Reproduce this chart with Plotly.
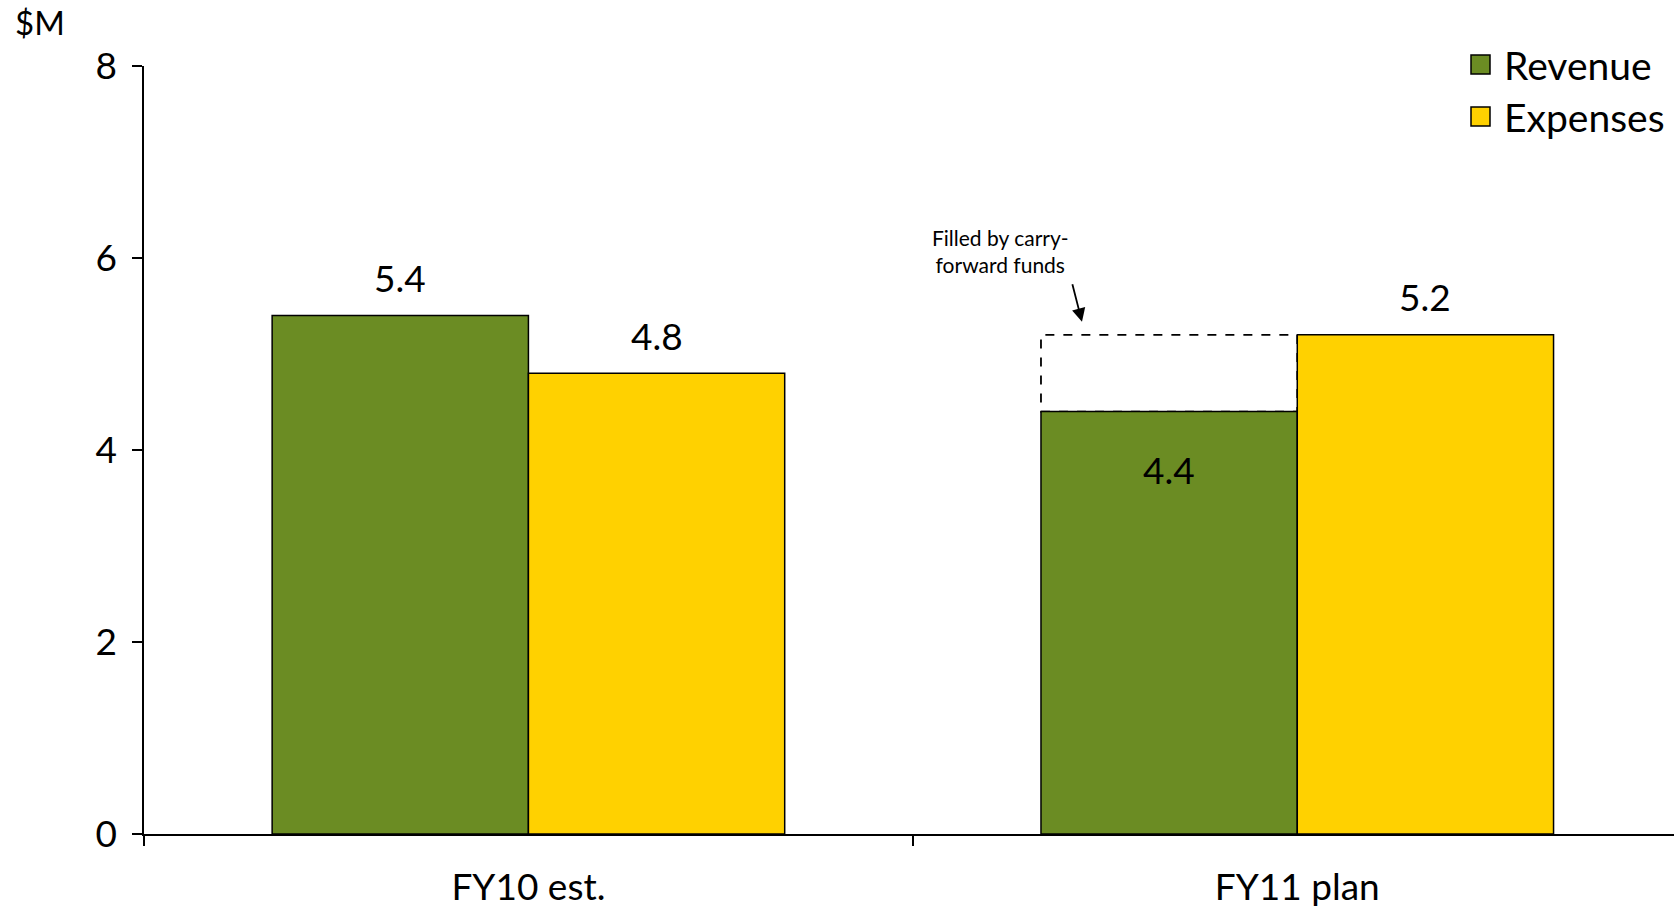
import plotly.graph_objects as go

# Budget figures, $M
categories = ["FY10 est.", "FY11 plan"]
revenue = [5.4, 4.4]
expenses = [4.8, 5.2]
y_ticks = [0, 2, 4, 6, 8]
series_names = ["Revenue", "Expenses"]

GREEN = "#6B8C23"
YELLOW = "#FFD100"
FONT = "Lato"

W, H = 1674, 908
M_L, M_R, M_T, M_B = 144, 0, 66, 74
PLOT_W = W - M_L - M_R
PLOT_H = H - M_T - M_B


def px_to_paper(px, py):
    """Convert page pixel position to paper coordinates."""
    return (px - M_L) / PLOT_W, (H - M_B - py) / PLOT_H


# each bar spans a third of its category (two bars + a one-third gap)
BAR_W = 1 / 3

fig = go.Figure()
fig.add_trace(go.Bar(
    name=series_names[0], x=categories, y=revenue, showlegend=False,
    marker=dict(color=GREEN, line=dict(color="black", width=1.5)),
))
fig.add_trace(go.Bar(
    name=series_names[1], x=categories, y=expenses, showlegend=False,
    marker=dict(color=YELLOW, line=dict(color="black", width=1.5)),
))

annotations = []
LABEL_FONT = dict(size=37, color="black", family=FONT)
# value labels above bars (FY11 revenue sits inside its bar under the gap box)
for i, (r, e) in enumerate(zip(revenue, expenses)):
    inside = r < e and i == 1
    annotations.append(dict(
        x=i - BAR_W / 2, y=r, xref="x", yref="y", text=f"{r:.1f}",
        showarrow=False, yshift=-58 if inside else 38, font=LABEL_FONT,
    ))
    annotations.append(dict(
        x=i + BAR_W / 2, y=e, xref="x", yref="y", text=f"{e:.1f}",
        showarrow=False, yshift=38, font=LABEL_FONT,
    ))

# gap between FY11 revenue and expenses, covered by carry-forward funds
gap_lo, gap_hi = revenue[1], expenses[1]
fig.add_shape(
    type="rect", xref="x", yref="y",
    x0=1 - BAR_W, x1=1, y0=gap_lo, y1=gap_hi,
    line=dict(color="black", width=1.8, dash="dash"),
    layer="below",
)

annotations.append(dict(
    x=0.614, y=6.07, xref="x", yref="y",
    text="Filled by carry-<br>forward funds", showarrow=False,
    font=dict(size=21, color="black", family=FONT),
))
annotations.append(dict(
    x=0.72, y=gap_hi, xref="x", yref="y", text="", showarrow=True,
    ax=-10, ay=-39, yshift=13,
    arrowhead=2, arrowsize=1.5, arrowwidth=1.8, arrowcolor="black",
))

# unit label
ux, uy = px_to_paper(13, 22)
annotations.append(dict(
    x=ux, y=uy, xref="paper", yref="paper", text="$M", showarrow=False,
    xanchor="left", yanchor="middle",
    font=dict(size=33, color="black", family=FONT),
))

# legend: square swatches with labels, top right
swatch_colors = [GREEN, YELLOW]
for k, (name, col) in enumerate(zip(series_names, swatch_colors)):
    top = 55 + k * 52
    x0, y0 = px_to_paper(1471, top)
    x1, y1 = px_to_paper(1490, top + 19)
    fig.add_shape(
        type="rect", xref="paper", yref="paper",
        x0=x0, x1=x1, y0=y1, y1=y0,
        fillcolor=col, line=dict(color="black", width=1.5),
    )
    tx, ty = px_to_paper(1502, top + 10)
    annotations.append(dict(
        x=tx, y=ty, xref="paper", yref="paper", text=name, showarrow=False,
        xanchor="left", yanchor="middle",
        font=dict(size=39, color="black", family=FONT),
    ))

fig.update_layout(
    width=W, height=H,
    margin=dict(l=M_L, r=M_R, t=M_T, b=M_B),
    paper_bgcolor="white", plot_bgcolor="white",
    barmode="group", bargap=1 / 3, bargroupgap=0,
    font=dict(family=FONT, size=37, color="black"),
    showlegend=False,
    annotations=annotations,
)
fig.update_xaxes(
    range=[-0.5, 1.49], showline=True, linecolor="black", linewidth=1.5,
    ticks="outside", tickson="boundaries", ticklen=10, tickwidth=1.5,
    tickcolor="black", ticklabelstandoff=20, showgrid=False,
    tickfont=dict(size=37, family=FONT),
)
fig.update_yaxes(
    range=[0, 8], tickvals=y_ticks, showline=True, linecolor="black",
    linewidth=1.5, ticks="outside", ticklen=10, tickwidth=1.5,
    tickcolor="black", ticklabelstandoff=8, showgrid=False, zeroline=False,
    tickfont=dict(size=37, family=FONT),
)

fig.write_html("out.html")
